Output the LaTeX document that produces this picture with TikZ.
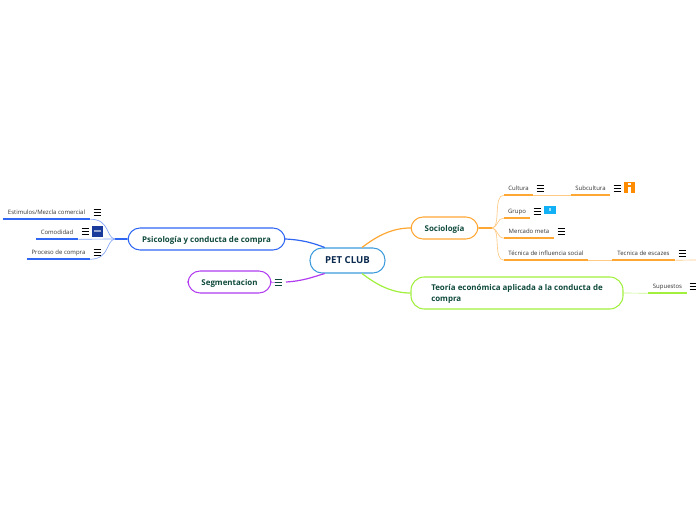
\documentclass[tikz,border=0pt]{standalone}
\usepackage{fontspec}
\setmainfont{Open Sans}
\definecolor{mInk}{HTML}{0F4A3C}
\definecolor{mNavy}{HTML}{0B2A4F}
\definecolor{mLeaf}{HTML}{333333}
\definecolor{mCenter}{HTML}{3C9BDC}
\definecolor{mBlue}{HTML}{2F66F2}
\definecolor{mOrange}{HTML}{FFA733}
\definecolor{mGreen}{HTML}{A0F03C}
\definecolor{mPurple}{HTML}{B23CF0}
\definecolor{mBrick}{HTML}{FF8C00}
\definecolor{mCyan}{HTML}{12B0F5}
\definecolor{mDeep}{HTML}{1A3A9C}
\usetikzlibrary{positioning,calc}
\tikzset{
  topic/.style={draw=#1, thick, fill=white, rounded corners=9pt, inner sep=0pt, text=mInk, align=center, text height=5.6pt, text depth=1pt, font=\fontsize{5.95}{8.2}\selectfont\bfseries},
  leaf/.style={inner sep=0pt, minimum height=10.5pt, text=mLeaf, text height=4.2pt, text depth=0.8pt, font=\fontsize{4.5}{5.5}\selectfont},
  underbar/.style={line width=1.4pt, draw=#1},
  twig/.style={line width=0.5pt, draw=#1},
  menuicon/.pic={\draw[line width=0.5pt, draw=#1] (-3.5,-3)--(3.5,-3) (-3.5,0)--(3.5,0) (-3.5,3)--(3.5,3);},
  menuicon/.default=black!65
}
\begin{document}
\begin{tikzpicture}[x=0.75pt, y=-0.75pt]
\useasboundingbox (0,0) rectangle (696,520);
% main topics
\node[topic=mCenter, minimum width=56.25pt, minimum height=18.75pt, text=mNavy, font=\fontsize{7.2}{9}\selectfont\bfseries] (pet) at (347.5,260.5) {PET CLUB};
\node[topic=mBlue, minimum width=117.75pt, minimum height=16.5pt] (psico) at (206.5,239) {Psicología y conducta de compra};
\node[topic=mPurple, minimum width=62.25pt, minimum height=16.5pt] (segm) at (229.5,282) {Segmentacion};
\node[topic=mOrange, minimum width=50.25pt, minimum height=16.5pt] (socio) at (444.5,228) {Sociología};
\node[topic=mGreen, minimum width=159pt, minimum height=24pt, rounded corners=10pt, align=left, text height=13pt, text depth=1pt] (teoria) at (517,293) {Teoría económica aplicada a la conducta de\\compra};
% left leaves
\node[leaf, minimum width=65.25pt] (estim) at (46.5,212) {Estimulos/Mezcla comercial};
\node[leaf, minimum width=31.5pt] (comod) at (57,232) {Comodidad};
\node[leaf, minimum width=47.25pt] (proceso) at (58.5,252) {Proceso de compra};
% right leaves
\node[leaf, minimum width=21.75pt] (cultura) at (518.5,188) {Cultura};
\node[leaf, minimum width=29.25pt] (subcult) at (590.5,188) {Subcultura};
\node[leaf, minimum width=19.5pt] (grupo) at (517,211) {Grupo};
\node[leaf, minimum width=37.5pt] (mercado) at (529,231) {Mercado meta};
\node[leaf, minimum width=63pt] (tecnica) at (546,253) {Técnica de influencia social};
\node[leaf, minimum width=47.25pt] (escazes) at (643.5,253) {Tecnica de escazes};
\node[leaf, minimum width=29.25pt] (supuestos) at (667.5,286) {Supuestos};
% forks and free ends
\coordinate (psicofork) at (115,239);
\coordinate (sociofork) at (492,228);
\coordinate (escazesend) at (696,260);
\coordinate (segmend) at (286,282);
% centre links
\draw[line width=0.9pt, mBlue] (psico.east) .. controls (303,240) and (313,243) .. ($(pet.north west)!0.2!(pet.north east)$);
\draw[line width=0.9pt, mPurple] (segmend) .. controls (303,281) and (313,277) .. ($(pet.south west)!0.2!(pet.south east)$);
\draw[line width=0.9pt, mOrange] ($(pet.north east)!0.31!(pet.north west)$) .. controls (377,236) and (392,228) .. (socio.west);
\draw[line width=0.9pt, mGreen] ($(pet.south east)!0.31!(pet.south west)$) .. controls (377,285) and (392,293) .. (teoria.west);
% left branch
\draw[line width=1.1pt, mBlue] (psico.west) -- (psicofork);
\draw[twig=mBlue!60] (psicofork) .. controls (106,238) and (110,219) .. (estim.south east);
\draw[twig=mBlue!60] (psicofork) -- (comod.south east);
\draw[twig=mBlue!60] (psicofork) .. controls (106,240) and (110,259) .. (proceso.south east);
\foreach \n in {estim,comod,proceso}
  \draw[underbar=mBlue] (\n.south west) -- (\n.south east);
% right branch
\draw[line width=1.1pt, mOrange] (socio.east) -- (sociofork);
\draw[twig=mOrange!60] (sociofork) .. controls (501,228) and (493,195) .. (cultura.south west);
\draw[twig=mOrange!60] (sociofork) .. controls (499,226) and (497,218) .. (grupo.south west);
\draw[twig=mOrange!60] (sociofork) .. controls (499,230) and (497,238) .. (mercado.south west);
\draw[twig=mOrange!60] (sociofork) .. controls (501,228) and (493,260) .. (tecnica.south west);
\draw[twig=mOrange!60] (cultura.south east) -- (subcult.south west);
\draw[twig=mOrange!60] (tecnica.south east) -- (escazes.south west);
\draw[twig=mOrange!60] (escazes.south east) -- (escazesend);
\foreach \n in {cultura,subcult,grupo,mercado,tecnica,escazes}
  \draw[underbar=mOrange] (\n.south west) -- (\n.south east);
% green branch
\draw[twig=mGreen!60] (teoria.east) -- (supuestos.south west);
\draw[underbar=mGreen] (supuestos.south west) -- (supuestos.south east);
% short purple stub
\draw[twig=mPurple!60] (segm.east) -- ++(3,0);
% menu icons
\foreach \x/\y in {97/212,85/231,97/252,540/188,617/188,537/211,561/231,682/253,693/286}
  \pic at (\x,\y) {menuicon};
\pic at (278,282) {menuicon=mInk};
% image icons
\node[fill=mDeep, minimum size=8.25pt, inner sep=0pt] (imgblue) at (97.5,231.5) {};
\fill[white!55!mDeep] (imgblue.west)++(2,-1) rectangle ++(7,2);
\node[fill=mBrick, minimum size=8.25pt, inner sep=0pt] (imgorange) at (629.5,188) {};
\fill[white] (imgorange.center)++(-1.5,-1) rectangle ++(3,6.5);
\fill[white] (imgorange.center)++(-1.5,-4.5) rectangle ++(3,2);
\node[fill=mCyan, minimum width=9pt, minimum height=6pt, inner sep=0pt] (imgcyan) at (550,210) {};
\fill[white!60!mCyan] (imgcyan.center)++(-1,-1.5) rectangle ++(2,3);
\end{tikzpicture}
\end{document}
